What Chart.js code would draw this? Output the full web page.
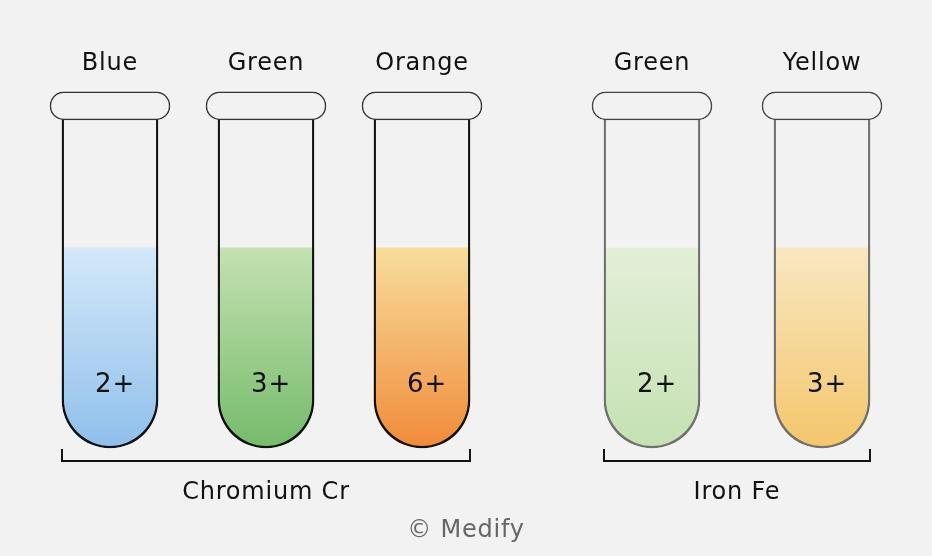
<!DOCTYPE html>
<html>
<head>
<meta charset="utf-8">
<script src="https://cdn.jsdelivr.net/npm/chart.js@4/dist/chart.umd.min.js"></script>
<style>
  html,body{margin:0;padding:0;background:#f2f2f2;}
  #wrap{position:relative;width:932px;height:556px;overflow:hidden;background:#f2f2f2;}
  #crBox{position:absolute;left:32px;top:0;width:468px;height:556px;}
  #feBox{position:absolute;left:567px;top:0;width:340px;height:556px;}
  #copy{position:absolute;left:0;width:932px;top:515px;line-height:30px;text-align:center;
        font:24px 'DejaVu Sans',sans-serif;letter-spacing:0.8px;color:#666;}
</style>
</head>
<body>
<div id="wrap">
  <div id="crBox"><canvas id="crChart"></canvas></div>
  <div id="feBox"><canvas id="feChart"></canvas></div>
  <div id="copy">© Medify</div>
</div>
<script>
// данные: хром
const crGroup   = 'Chromium Cr';
const crNames   = ['Blue', 'Green', 'Orange'];
const crCharges = ['2+', '3+', '6+'];
const crLevels  = [61, 61, 61];

// данные: железо
const feGroup   = 'Iron Fe';
const feNames   = ['Green', 'Yellow'];
const feCharges = ['2+', '3+'];
const feLevels  = [61, 61];

// пробирка: дно = 0, край = 100, крышка до 108.5
const TUBE_FULL = 100;
const CAP_TOP = 108.5;

// цвета жидкости (верх, низ)
const crColors = [['#d4e8f9', '#8fbfeb'], ['#c4e1b1', '#76bb6c'], ['#f8dd9c', '#f08b3a']];
const feColors = [['#e3efd8', '#c5e1b3'], ['#f8e7c0', '#f4c66c']];

Chart.defaults.font.family = "'DejaVu Sans', sans-serif";
Chart.defaults.color = '#111';

// рисуем подписи зарядов, скобку и название группы
const tubePlugin = {
  id: 'tubeDeco',
  beforeDraw(chart) { chart.ctx.letterSpacing = '0.8px'; },
  afterDatasetsDraw(chart, args, opts) {
    const ctx = chart.ctx, y = chart.scales.y;
    const bars = chart.getDatasetMeta(1).data;
    ctx.save();
    ctx.letterSpacing = '0.8px';
    // заряды
    ctx.font = "26px 'DejaVu Sans', sans-serif";
    ctx.fillStyle = '#111';
    ctx.textAlign = 'center';
    ctx.textBaseline = 'middle';
    bars.forEach((b, i) => ctx.fillText(opts.charges[i], b.x + 5, y.getPixelForValue(opts.labelAt)));
    // скобка
    const first = bars[0], last = bars[bars.length - 1];
    const x0 = first.x - first.width / 2, x1 = last.x + last.width / 2;
    const yb = chart.chartArea.bottom;
    ctx.strokeStyle = '#111';
    ctx.lineWidth = 2;
    ctx.beginPath();
    ctx.moveTo(x0, yb - 12); ctx.lineTo(x0, yb); ctx.lineTo(x1, yb); ctx.lineTo(x1, yb - 12);
    ctx.stroke();
    // название группы
    ctx.font = "24px 'DejaVu Sans', sans-serif";
    ctx.fillText(opts.group, (x0 + x1) / 2, yb + 32);
    ctx.restore();
  }
};

function makeTubes(id, names, levels, charges, colors, group, edge, capEdge) {
  const grad = c => {
    const area = c.chart.chartArea;
    if (!area) return colors[0][0];
    const ys = c.chart.scales.y;
    const g = c.chart.ctx.createLinearGradient(0, ys.getPixelForValue(levels[c.dataIndex]), 0, ys.getPixelForValue(0));
    g.addColorStop(0, colors[c.dataIndex][0]);
    g.addColorStop(1, colors[c.dataIndex][1]);
    return g;
  };
  const round = {topLeft: 0, topRight: 0, bottomLeft: 48, bottomRight: 48};
  return new Chart(document.getElementById(id), {
    type: 'bar',
    data: {
      labels: names,
      datasets: [
        { // крышка
          data: names.map(() => [TUBE_FULL, CAP_TOP]),
          backgroundColor: '#f2f2f2', borderColor: capEdge, borderWidth: 1.5,
          borderRadius: 14, borderSkipped: false, barThickness: 120, order: 1
        },
        { // стенки
          data: names.map(() => TUBE_FULL),
          backgroundColor: 'rgba(0,0,0,0)', borderColor: edge, borderWidth: 1.6,
          borderRadius: round, borderSkipped: 'end', barThickness: 96, order: 2
        },
        { // жидкость
          data: levels,
          backgroundColor: grad, borderWidth: 0,
          borderRadius: round, borderSkipped: 'end', barThickness: 96, order: 3
        }
      ]
    },
    options: {
      responsive: true, maintainAspectRatio: false, animation: false,
      layout: {padding: {top: 0, bottom: 95, left: 0, right: 0}},
      datasets: {bar: {grouped: false}},
      plugins: {
        legend: {display: false}, tooltip: {enabled: false},
        tubeDeco: {charges, group, labelAt: 19}
      },
      scales: {
        x: {
          position: 'top', offset: true,
          grid: {display: false, drawTicks: false}, border: {display: false},
          ticks: {font: {size: 24}, color: '#111', padding: 9, maxRotation: 0},
          afterFit(a) { a.height = 87; }
        },
        y: {display: false, min: -4, max: 110}
      }
    },
    plugins: [tubePlugin]
  });
}

makeTubes('crChart', crNames, crLevels, crCharges, crColors, crGroup, '#111', '#333');
makeTubes('feChart', feNames, feLevels, feCharges, feColors, feGroup, '#707070', '#444');
</script>
</body>
</html>
